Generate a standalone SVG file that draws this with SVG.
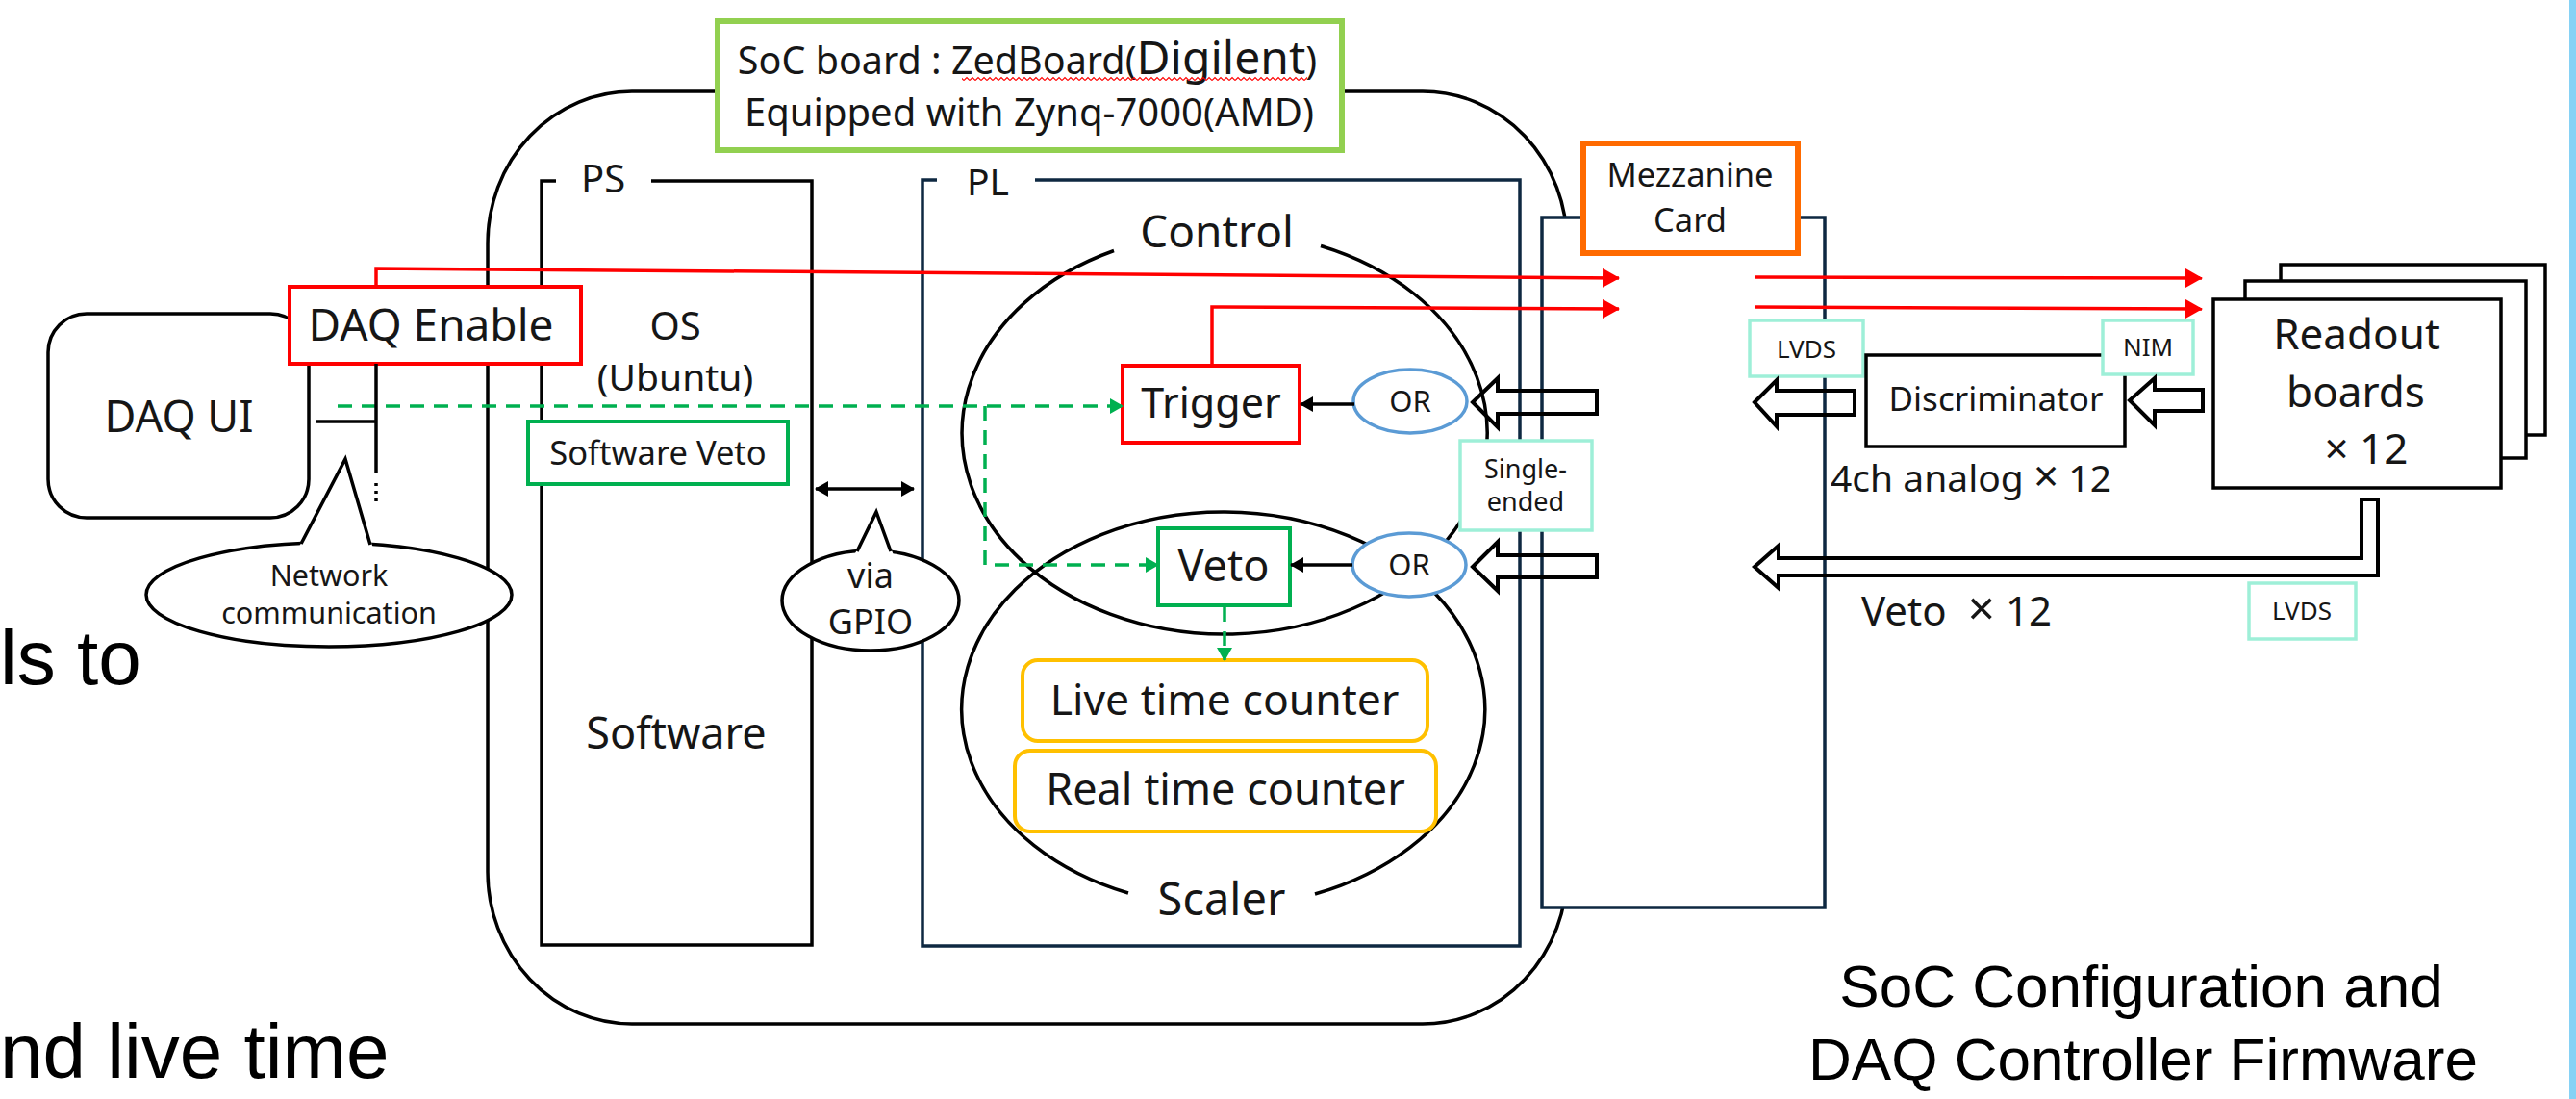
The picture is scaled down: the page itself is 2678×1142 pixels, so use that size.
<svg xmlns="http://www.w3.org/2000/svg" width="2678" height="1142" viewBox="0 0 2678 1142">
<style>
.t{font-family:"Noto Sans","Liberation Sans",sans-serif;fill:#161616}
.s{font-family:"Liberation Sans",Arial,sans-serif;fill:#000}
.m{text-anchor:middle}
.k{fill:none;stroke:#000;stroke-width:3.5}
.kw{fill:#fff;stroke:#000;stroke-width:3.5}
.nv{fill:none;stroke:#0e2841;stroke-width:3.5}
.red{fill:none;stroke:#ff0000;stroke-width:3.5}
.grn{fill:none;stroke:#00b050;stroke-width:3.5;stroke-dasharray:15 10}
.mint{fill:#fff;stroke:#9eefd8;stroke-width:3.5}
.or{fill:#fff;stroke:#5b9bd5;stroke-width:3.5}
.cnt{fill:#fff;stroke:#ffc000;stroke-width:4}
.hol{fill:none;stroke:#000;stroke-width:4;stroke-linejoin:miter}
</style>
<defs>
<marker id="ar" markerUnits="userSpaceOnUse" markerWidth="18" markerHeight="20" viewBox="0 0 18 20" refX="17" refY="10" orient="auto"><path d="M0,0 L18,10 L0,20 z" fill="#ff0000"/></marker>
<marker id="ag" markerUnits="userSpaceOnUse" markerWidth="14" markerHeight="16" viewBox="0 0 14 16" refX="13" refY="8" orient="auto"><path d="M0,0 L14,8 L0,16 z" fill="#00b050"/></marker>
<marker id="ak" markerUnits="userSpaceOnUse" markerWidth="14" markerHeight="16" viewBox="0 0 14 16" refX="13" refY="8" orient="auto-start-reverse"><path d="M0,0 L14,8 L0,16 z" fill="#000"/></marker>
<pattern id="squig" patternUnits="userSpaceOnUse" x="0" y="79" width="6" height="6"><path d="M0,4.5 L3,1.5 L6,4.5" fill="none" stroke="#ff0000" stroke-width="1.2"/></pattern>
</defs>
<rect width="2678" height="1142" fill="#fff"/>
<rect x="2671" y="0" width="7" height="1142" fill="#86d2f5"/>

<!-- slide text fragments -->
<text class="s" x="0" y="711" font-size="80">ls to</text>
<text class="s" x="0" y="1120" font-size="80">nd live time</text>
<text class="s m" x="2226" y="1046" font-size="62">SoC Configuration and</text>
<text class="s m" x="2228" y="1122" font-size="62">DAQ Controller Firmware</text>

<g id="soc-board">
<rect x="507" y="95" width="1122" height="969" rx="150" ry="158" class="k"/>
</g>
<g id="soc-title">
<rect x="746" y="22" width="649" height="134" fill="#fff" stroke="#92d050" stroke-width="6"/>
<text class="t m" x="1068" y="77" font-size="39.5">SoC board : ZedBoard(<tspan font-size="48">Digilent</tspan>)</text>
<rect x="1000" y="79" width="359" height="6" fill="url(#squig)"/>
<text class="t m" x="1070" y="131" font-size="40">Equipped with Zynq-7000(AMD)</text>
</g>
<g id="mezzanine">
<rect x="1603" y="226" width="294" height="717" fill="#fff" stroke="#0e2841" stroke-width="3.5"/>
<rect x="1646" y="149" width="223" height="114" fill="#fff" stroke="#ff6a00" stroke-width="6"/>
<text class="t m" x="1757" y="194" font-size="34.5">Mezzanine</text>
<text class="t m" x="1757" y="241" font-size="34.5">Card</text>
</g>
<g id="ps">
<path d="M578,188 H563 V982 H844 V188 H677" class="k"/>
<text class="t" x="604" y="200" font-size="40">PS</text>
<text class="t m" x="702" y="353" font-size="40">OS</text>
<text class="t m" x="702" y="406" font-size="39">(Ubuntu)</text>
<text class="t m" x="703" y="778" font-size="45">Software</text>
</g>
<g id="pl">
<path d="M974,187 H959 V983 H1580 V187 H1076" class="nv"/>
<text class="t" x="1005" y="203" font-size="39">PL</text>
</g>
<g id="control">
<path d="M1373,255.5 A273,209 0 1 1 1158,260.5" class="k"/>
<text class="t m" x="1265" y="257" font-size="46">Control</text>
</g>
<g id="scaler">
<path d="M1173,928 A272,205 0 1 1 1367,929" class="k"/>
<text class="t m" x="1270" y="951" font-size="47">Scaler</text>
</g>
<g id="daq-ui">
<rect x="50" y="326" width="271" height="212" rx="40" class="kw"/>
<text class="t m" x="186" y="449" font-size="45">DAQ UI</text>
</g>
<g id="daq-enable">
<rect x="301" y="298" width="303" height="80" fill="#fff" stroke="#ff0000" stroke-width="4"/>
<text class="t m" x="448" y="354" font-size="46">DAQ Enable</text>
</g>
<g id="network-bubble">
<ellipse cx="342" cy="618" rx="190" ry="54" class="kw"/>
<polygon points="310,570 359,477 388,570" fill="#fff"/>
<polyline points="313,565 359,477 385,566" class="k"/>
<text class="t m" x="342" y="609" font-size="30.5">Network</text>
<text class="t m" x="342" y="648" font-size="30.5">communication</text>
</g>
<g id="gpio-bubble">
<ellipse cx="905" cy="624" rx="92" ry="52" class="kw"/>
<polygon points="888,577 911,532 929,577" fill="#fff"/>
<polyline points="891,573 911,532 926,573" class="k"/>
<text class="t m" x="905" y="611" font-size="36">via</text>
<text class="t m" x="905" y="659" font-size="36">GPIO</text>
</g>
<g id="software-veto">
<rect x="549" y="438" width="270" height="65" fill="#fff" stroke="#00b050" stroke-width="4"/>
<text class="t m" x="684" y="483" font-size="34.5">Software Veto</text>
</g>
<g id="trigger">
<rect x="1167" y="380" width="184" height="80" fill="#fff" stroke="#ff0000" stroke-width="4"/>
<text class="t m" x="1259" y="434" font-size="43">Trigger</text>
</g>
<g id="veto">
<rect x="1204" y="549" width="137" height="80" fill="#fff" stroke="#00b050" stroke-width="4"/>
<text class="t m" x="1272" y="604" font-size="45">Veto</text>
</g>
<g id="or-trigger">
<ellipse cx="1466" cy="417" rx="59" ry="33" class="or"/>
<text class="t m" x="1466" y="428" font-size="31">OR</text>
</g>
<g id="or-veto">
<ellipse cx="1465" cy="587" rx="59" ry="33" class="or"/>
<text class="t m" x="1465" y="598" font-size="31">OR</text>
</g>
<g id="live-time-counter">
<rect x="1063" y="686" width="421" height="84" rx="16" class="cnt"/>
<text class="t m" x="1273" y="743" font-size="44.5">Live time counter</text>
</g>
<g id="real-time-counter">
<rect x="1055" y="780" width="438" height="84" rx="16" class="cnt"/>
<text class="t m" x="1274" y="836" font-size="45">Real time counter</text>
</g>
<g id="single-ended">
<rect x="1518" y="458" width="137" height="93" class="mint"/>
<text class="t m" x="1586" y="497" font-size="27">Single-</text>
<text class="t m" x="1586" y="531" font-size="27">ended</text>
</g>
<g id="lvds-top">
<rect x="1819" y="333" width="118" height="58" class="mint"/>
<text class="t m" x="1878" y="372" font-size="26">LVDS</text>
</g>
<g id="discriminator">
<rect x="1940" y="369" width="269" height="95" class="kw" stroke-width="4"/>
<text class="t m" x="2075" y="427" font-size="35">Discriminator</text>
</g>
<g id="nim">
<rect x="2186" y="333" width="94" height="56" class="mint"/>
<text class="t m" x="2233" y="370" font-size="26">NIM</text>
</g>
<g id="readout-boards">
<rect x="2371" y="275" width="275" height="177" class="kw" stroke-width="4"/>
<rect x="2334" y="292" width="292" height="184" class="kw" stroke-width="4"/>
<rect x="2301" y="311" width="299" height="196" class="kw" stroke-width="4"/>
<text class="t m" x="2450" y="363" font-size="44">Readout</text>
<text class="t m" x="2449" y="423" font-size="44">boards</text>
<text class="t m" x="2460" y="482" font-size="44">× 12</text>
</g>
<g id="lvds-bottom">
<rect x="2338" y="606" width="111" height="58" class="mint"/>
<text class="t m" x="2393" y="644" font-size="26">LVDS</text>
</g>
<g id="labels">
<text class="t" x="1903" y="511" font-size="39">4ch analog <tspan font-size="46">×</tspan> 12</text>
<text class="t" x="1935" y="650" font-size="42" xml:space="preserve">Veto  <tspan font-size="50">×</tspan> 12</text>
</g>

<g id="connectors">
<polyline points="391,298 391,279 1683,289" class="red" marker-end="url(#ar)"/>
<line x1="1824" y1="288" x2="2289" y2="289" class="red" marker-end="url(#ar)"/>
<polyline points="1260,380 1260,319 1683,321" class="red" marker-end="url(#ar)"/>
<line x1="1824" y1="319" x2="2289" y2="321" class="red" marker-end="url(#ar)"/>
<line x1="351" y1="422" x2="1167" y2="422" class="grn" marker-end="url(#ag)"/>
<polyline points="1024,422 1024,587 1204,587" class="grn" marker-end="url(#ag)"/>
<line x1="1273" y1="631" x2="1273" y2="686" class="grn" stroke-dasharray="15 8" marker-end="url(#ag)"/>
<line x1="1408" y1="420" x2="1352" y2="420" class="k" marker-end="url(#ak)"/>
<line x1="1406" y1="587" x2="1342" y2="587" class="k" marker-end="url(#ak)"/>
<line x1="848" y1="508" x2="950" y2="508" class="k" marker-start="url(#ak)" marker-end="url(#ak)"/>
<line x1="329" y1="438" x2="391" y2="438" class="k"/>
<line x1="391" y1="378" x2="391" y2="491" class="k"/>
<line x1="391" y1="502" x2="391" y2="523" class="k" stroke-dasharray="3 5"/>
<path d="M1531,418 L1557,393 L1557,406 L1660,406 L1660,430 L1557,430 L1557,444 Z" class="hol"/>
<path d="M1531,589 L1557,563 L1557,577 L1660,577 L1660,600 L1557,600 L1557,614 Z" class="hol"/>
<path d="M1824,418 L1847,395 L1847,406 L1928,406 L1928,431 L1847,431 L1847,443 Z" class="hol"/>
<path d="M2214,416 L2240,393 L2240,405 L2290,405 L2290,427 L2240,427 L2240,442 Z" class="hol"/>
<path d="M1824,589 L1849,567 L1849,580 L2455,580 L2455,519 L2472,519 L2472,598 L1849,598 L1849,611 Z" class="hol"/>
</g>
</svg>
